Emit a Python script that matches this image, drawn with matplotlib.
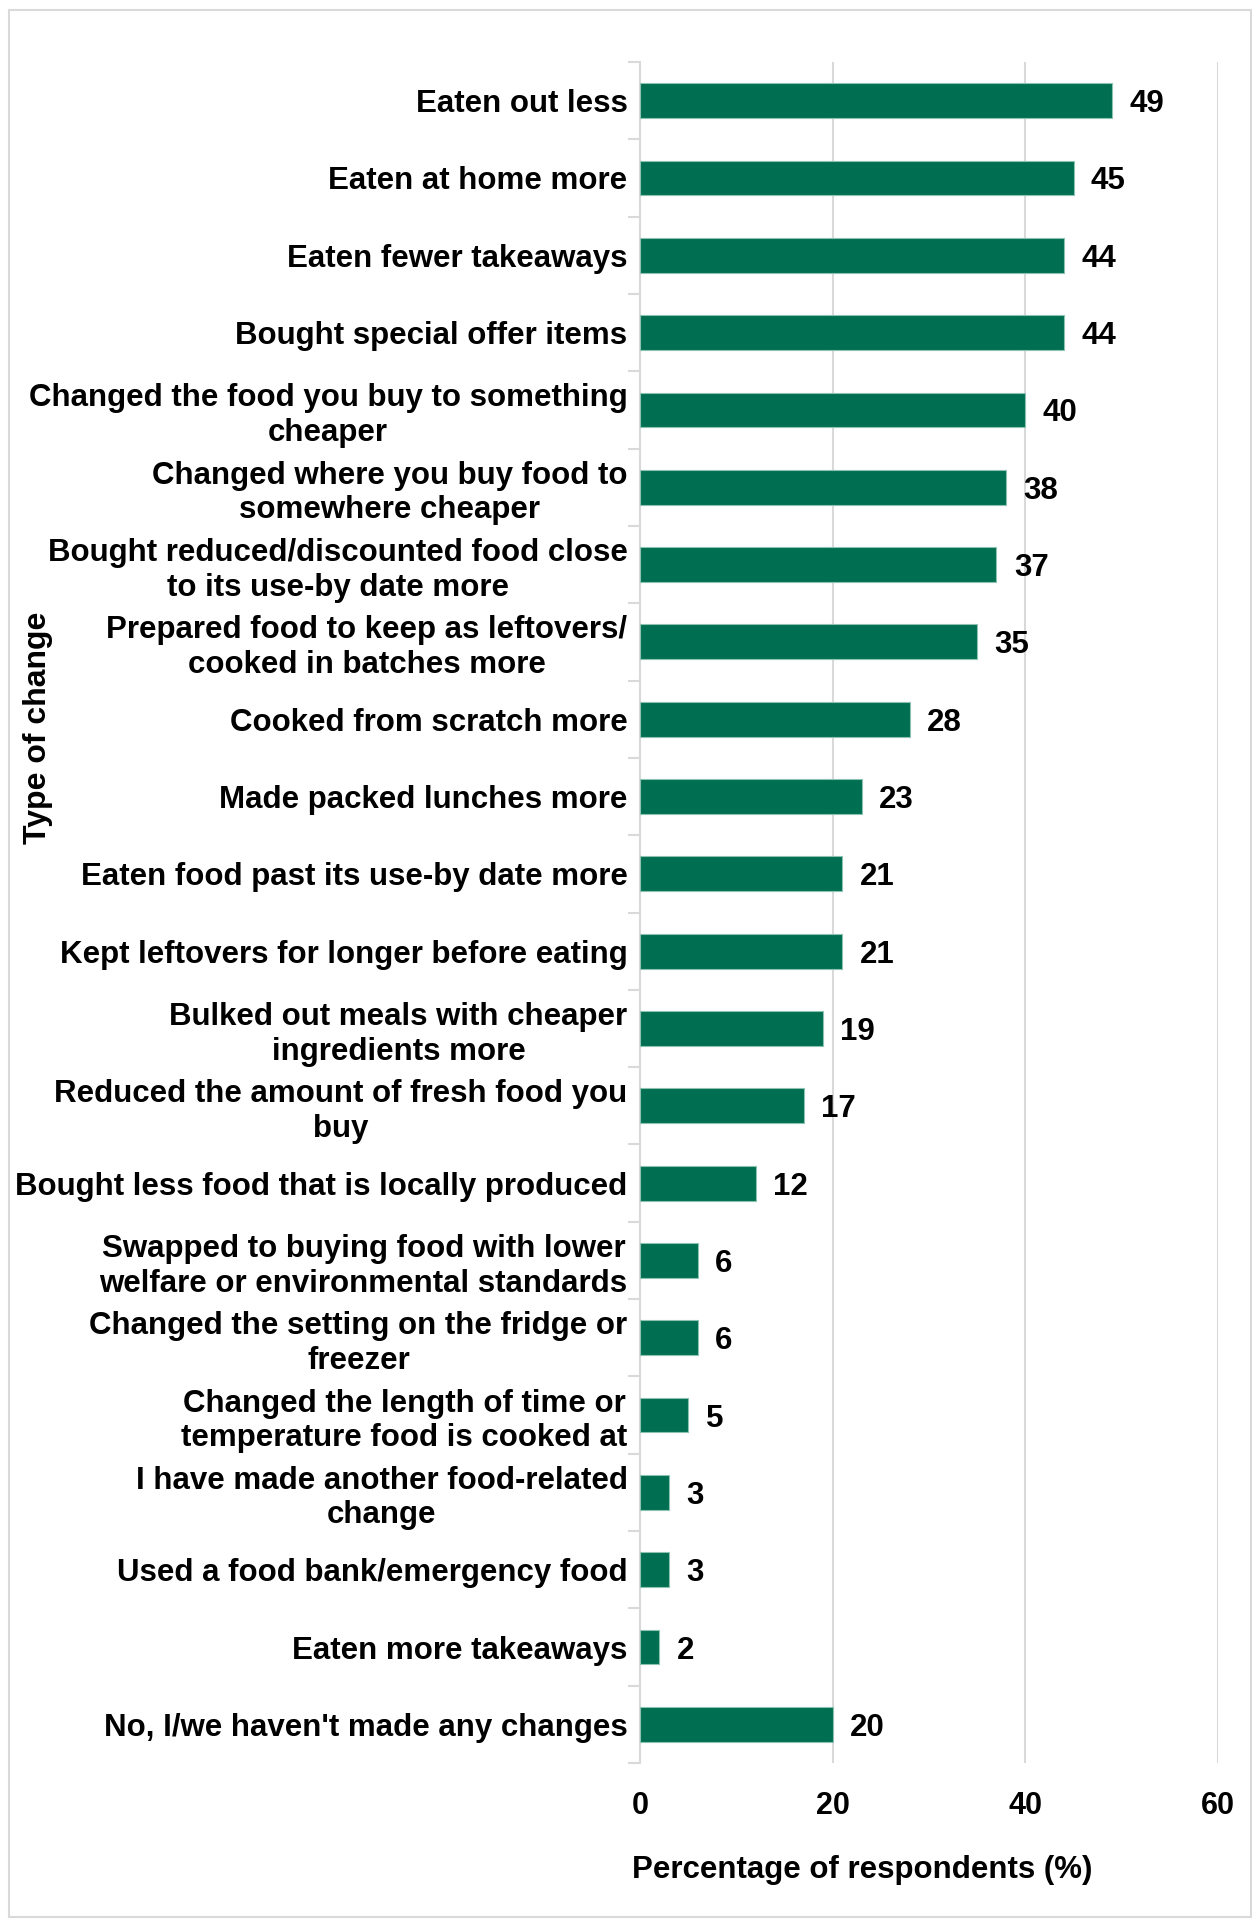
import matplotlib.pyplot as plt
from matplotlib.patches import Rectangle
from matplotlib.ticker import FixedLocator, NullFormatter

plt.rcParams['font.family'] = ['Liberation Sans', 'DejaVu Sans']
plt.rcParams['font.weight'] = 'bold'

changes = [
    'Eaten out less',
    'Eaten at home more',
    'Eaten fewer takeaways',
    'Bought special offer items',
    'Changed the food you buy to something\ncheaper',
    'Changed where you buy food to\nsomewhere cheaper',
    'Bought reduced/discounted food close\nto its use-by date more',
    'Prepared food to keep as leftovers/\ncooked in batches more',
    'Cooked from scratch more',
    'Made packed lunches more',
    'Eaten food past its use-by date more',
    'Kept leftovers for longer before eating',
    'Bulked out meals with cheaper\ningredients more',
    'Reduced the amount of fresh food you\nbuy',
    'Bought less food that is locally produced',
    'Swapped to buying food with lower\nwelfare or environmental standards',
    'Changed the setting on the fridge or\nfreezer',
    'Changed the length of time or\ntemperature food is cooked at',
    'I have made another food-related\nchange',
    'Used a food bank/emergency food',
    'Eaten more takeaways',
    "No, I/we haven't made any changes",
]
percent = [49, 45, 44, 44, 40, 38, 37, 35, 28, 23, 21, 21, 19, 17, 12,
           6, 6, 5, 3, 3, 2, 20]
x_ticks = [0, 20, 40, 60]

W, H = 1252, 1919
fig = plt.figure(figsize=(W / 100, H / 100), dpi=100)
ax = fig.add_axes([640 / W, 1 - 1763 / H, (1218 - 640) / W, (1763 - 62) / H])

pos = list(range(len(changes)))
ax.barh(pos, percent, height=0.45, color='#006E51', edgecolor='#8CC3B0',
        linewidth=0.8, zorder=3)
for p, v in zip(pos, percent):
    ax.text(v + 1.8, p, str(v), va='center_baseline', ha='left', fontsize=22.5,
            fontweight='bold', color='black')

ax.set_xlim(0, 60)
ax.set_ylim(len(changes) - 0.5, -0.5)
ax.xaxis.set_major_locator(FixedLocator(x_ticks))
ax.tick_params(axis='x', length=0, labelsize=22, pad=20)
ax.grid(axis='x', color='#D9D9D9', linewidth=1.5, zorder=0)

# category labels centred on bars, tick marks on the boundaries
ax.set_yticks(pos)
ax.set_yticklabels(changes, fontsize=22.5, fontweight='bold', ha='right',
                   multialignment='center', linespacing=1.2)
ax.tick_params(axis='y', which='major', length=0, pad=9)
ax.yaxis.set_minor_locator(FixedLocator([p - 0.5 for p in pos] + [len(pos) - 0.5]))
ax.yaxis.set_minor_formatter(NullFormatter())
ax.tick_params(axis='y', which='minor', length=9, width=1.5, color='#D9D9D9')

for s in ['top', 'right', 'bottom']:
    ax.spines[s].set_visible(False)
ax.spines['left'].set_color('#D9D9D9')
ax.spines['left'].set_linewidth(1.5)

fig.text(862 / W, 1 - 1870 / H, 'Percentage of respondents (%)', ha='center',
         va='center', fontsize=22.5, fontweight='bold')
fig.text(38 / W, 1 - 728 / H, 'Type of change', rotation=90, ha='center',
         va='center', fontsize=23, fontweight='bold')

fig.patches.append(Rectangle((9 / W, 2 / H), 1 - 10 / W, 1 - 12 / H,
                             transform=fig.transFigure, fill=False,
                             edgecolor='#D9D9D9', linewidth=1.5))

fig.savefig('out.png', dpi=100)
